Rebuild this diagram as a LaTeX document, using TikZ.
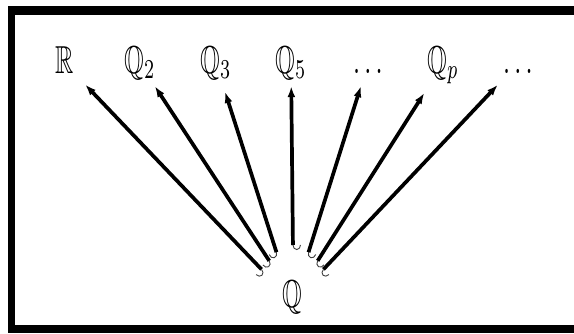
\documentclass[tikz,border=0pt]{standalone}
\usepackage{amssymb}
\usepackage{graphicx}
\usetikzlibrary{arrows.meta}

% tall, narrow blackboard letters, blown up from 10pt
\newcommand{\narrow}[1]{\scalebox{2.535}[3.9]{#1}}

\tikzset{
  headtip/.tip={Latex[length=11pt,width=8pt]},
  hookl/.tip={Hooks[arc=180,length=5pt,width=16pt,left,line width=0.9pt 0,color=black!75]},
  hookr/.tip={Hooks[arc=180,length=5pt,width=16pt,right,line width=0.9pt 0,color=black!75]},
}

\begin{document}
\begin{tikzpicture}[x=1pt,y=-1pt,
  lbl/.style={anchor=base,
    text height=27pt, text depth=8pt, inner xsep=4pt, inner ysep=5pt,
    minimum width=40pt},
  incl/.style={line width=3.7pt, black, {hookr}-{headtip}},
  incr/.style={line width=3.7pt, black, {hookl}-{headtip}}]

\useasboundingbox (0,0) rectangle (574,333);
\clip (0,0) rectangle (574,333);

% frame
\fill[black] (8,6) rectangle (574,15);
\fill[black] (8,6) rectangle (15,333);
\fill[black] (8,325) rectangle (574,333);

% completions along the top
\node[lbl] (R)  at (65,73)  {\narrow{$\mathbb{R}$}};
\node[lbl] (Q2) at (140,73) {\narrow{$\mathbb{Q}_2$}};
\node[lbl] (Q3) at (216,73) {\narrow{$\mathbb{Q}_3$}};
\node[lbl] (Q5) at (291,73) {\narrow{$\mathbb{Q}_5$}};
\node[lbl] (D1) at (368,73) {\narrow{$\dots$}};
\node[lbl] (Qp) at (443,73) {\narrow{$\mathbb{Q}_p$}};
\node[lbl] (D2) at (518,73) {\narrow{$\dots$}};

% the rationals
\node[lbl] (Q) at (292,307) {\narrow{$\mathbb{Q}$}};

% tails of the inclusions
\coordinate (t1) at (265,273);
\coordinate (t2) at (272,265);
\coordinate (t3) at (278,257);
\coordinate (t4) at (293,250);
\coordinate (t5) at (307,257);
\coordinate (t6) at (315,265);
\coordinate (t7) at (320,273);

\draw[incl] (t1) -- (R);
\draw[incl] (t2) -- (Q2);
\draw[incl, shorten >=6pt] (t3) -- (Q3);
\draw[incr] (t4) -- (Q5);
\draw[incr] (t5) -- (D1);
\draw[incr, shorten >=8pt] (t6) -- (Qp);
\draw[incr] (t7) -- (D2);
\end{tikzpicture}
\end{document}
